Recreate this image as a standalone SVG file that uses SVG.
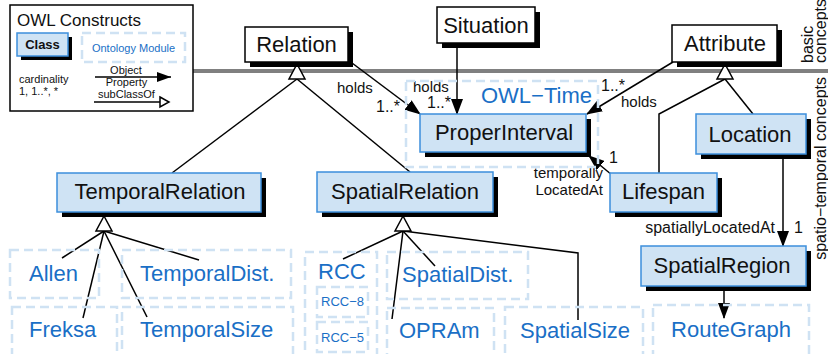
<svg xmlns="http://www.w3.org/2000/svg" width="828" height="354" viewBox="0 0 828 354">
<style>
text{font-family:"Liberation Sans",Arial,sans-serif}
.box{fill:#fff;stroke:#000;stroke-width:1.5}
.sh{fill:#000}
.cls{fill:#cfe3f4;stroke:#3d8fdc;stroke-width:1.5}
.mod{fill:none;stroke:#cfe2f3;stroke-width:2.5;stroke-dasharray:9 5}
.nt{font-size:22px;fill:#111;text-anchor:middle}
.mt{font-size:22px;fill:#1a6fc6}
.lb{font-size:15px;fill:#111}
.lb16{font-size:16px;fill:#111}
.ln{stroke:#000;stroke-width:1.5;fill:none}
.tri{fill:#fff;stroke:#000;stroke-width:1.5}
.lg{font-size:11px;fill:#111}
</style>
<defs>
<marker id="arr" markerUnits="userSpaceOnUse" markerWidth="16" markerHeight="12" refX="15" refY="6" orient="auto"><path d="M0,0 L16,6 L0,12 z" fill="#000"/></marker>
<marker id="arrs" markerUnits="userSpaceOnUse" markerWidth="14" markerHeight="10" refX="14" refY="5" orient="auto"><path d="M0,0 L14,5 L0,10 z" fill="#000"/></marker>
</defs>

<!-- separator -->
<line x1="193" y1="71" x2="828" y2="71" stroke="#808080" stroke-width="4"/>
<text class="lb16" transform="translate(813,63) rotate(-90)">basic</text>
<text class="lb16" transform="translate(826,63) rotate(-90)">concepts</text>
<text class="lb16" transform="translate(826,77) rotate(-90)" text-anchor="end">spatio−temporal concepts</text>

<!-- legend -->
<g id="legend">
<rect x="10" y="5" width="183" height="106" class="box"/>
<text x="17" y="26" style="font-size:17px;fill:#111">OWL Constructs</text>
<rect x="21" y="37" width="51" height="23" class="sh"/>
<rect x="17" y="33" width="51" height="23" class="cls"/>
<text x="42.5" y="49" style="font-size:13px;font-weight:bold;fill:#111" text-anchor="middle">Class</text>
<rect x="82" y="33" width="103" height="29" class="mod"/>
<text x="133.5" y="52" style="font-size:11px;fill:#1a6fc6" text-anchor="middle">Ontology Module</text>
<text x="19" y="83" class="lg">cardinality</text>
<text x="19" y="95" class="lg">1, 1..*, *</text>
<text x="126" y="74" class="lg" text-anchor="middle">Object</text>
<text x="126.5" y="86" class="lg" text-anchor="middle">Property</text>
<line x1="95" y1="77" x2="171" y2="77" class="ln" marker-end="url(#arrs)"/>
<text x="98" y="98" class="lg">subClassOf</text>
<line x1="94" y1="102" x2="160" y2="102" class="ln"/>
<path d="M160,97 L169,102 L160,107 z" class="tri"/>
</g>

<!-- connectors -->
<g id="connectors">
<line x1="297" y1="79" x2="172" y2="173" class="ln"/>
<line x1="297" y1="79" x2="410" y2="172" class="ln"/>
<path d="M297,64 L289,79 L305,79 z" class="tri"/>
<line x1="352" y1="63" x2="420" y2="114" class="ln" marker-end="url(#arr)"/>
<line x1="457" y1="43" x2="457" y2="114" class="ln" marker-end="url(#arr)"/>
<line x1="673" y1="62" x2="587" y2="114" class="ln" marker-end="url(#arr)"/>
<polyline points="725,79 659,114 659,173" class="ln"/>
<line x1="725" y1="79" x2="753" y2="114" class="ln"/>
<path d="M725,64 L717,79 L733,79 z" class="tri"/>
<line x1="612" y1="175" x2="589" y2="156" class="ln" marker-end="url(#arr)"/>
<line x1="783" y1="154" x2="783" y2="246" class="ln" marker-end="url(#arr)"/>
<line x1="724" y1="286" x2="724" y2="318" class="ln" marker-end="url(#arr)"/>
<line x1="104" y1="231" x2="62" y2="258" class="ln"/>
<line x1="104" y1="231" x2="83" y2="318" class="ln"/>
<line x1="104" y1="231" x2="147" y2="317" class="ln"/>
<line x1="104" y1="231" x2="199" y2="260" class="ln"/>
<path d="M104,216 L96,231 L112,231 z" class="tri"/>
<line x1="403" y1="231" x2="343" y2="259" class="ln"/>
<line x1="403" y1="231" x2="435" y2="266" class="ln"/>
<line x1="403" y1="231" x2="392" y2="319" class="ln"/>
<polyline points="403,231 578,253 578,320" class="ln"/>
<path d="M403,216 L395,231 L411,231 z" class="tri"/>
<text x="337" y="93" class="lb">holds</text>
<text x="376" y="112" class="lb16">1..*</text>
<text x="413" y="92" class="lb">holds</text>
<text x="427" y="108" class="lb16">1..*</text>
<text x="601" y="91" class="lb16">1..*</text>
<text x="621" y="107" class="lb">holds</text>
<text x="609" y="163" class="lb16">1</text>
<text x="603" y="178" class="lb" text-anchor="end">temporally</text>
<text x="603" y="195" class="lb" text-anchor="end">LocatedAt</text>
<text x="775" y="233" class="lb16" text-anchor="end">spatiallyLocatedAt</text>
<text x="794" y="233" class="lb16">1</text>
</g>

<!-- nodes -->
<g id="relation">
<rect x="250" y="32" width="103" height="35" class="sh"/>
<rect x="245" y="27" width="103" height="35" class="box"/>
<text x="296.5" y="52" class="nt">Relation</text>
</g>
<g id="situation">
<rect x="442" y="12" width="98" height="36" class="sh"/>
<rect x="437" y="7" width="98" height="36" class="box"/>
<text x="486" y="33" class="nt">Situation</text>
</g>
<g id="attribute">
<rect x="677" y="30" width="105" height="37" class="sh"/>
<rect x="672" y="25" width="105" height="37" class="box"/>
<text x="725" y="51" class="nt">Attribute</text>
</g>
<g id="owl-time">
<rect x="406" y="81" width="192" height="86" class="mod"/>
<text x="592" y="103" class="mt" text-anchor="end">OWL−Time</text>
</g>
<g id="properinterval">
<rect x="425" y="119" width="166" height="38" class="sh"/>
<rect x="420" y="114" width="166" height="38" class="cls"/>
<text x="504" y="140" class="nt">ProperInterval</text>
</g>
<g id="temporalrelation">
<rect x="62" y="178" width="204" height="39" class="sh"/>
<rect x="57" y="173" width="204" height="39" class="cls"/>
<text x="160" y="199" class="nt">TemporalRelation</text>
</g>
<g id="spatialrelation">
<rect x="322" y="177" width="176" height="40" class="sh"/>
<rect x="317" y="172" width="176" height="40" class="cls"/>
<text x="405" y="199" class="nt">SpatialRelation</text>
</g>
<g id="lifespan">
<rect x="615" y="178" width="107" height="39" class="sh"/>
<rect x="610" y="173" width="107" height="39" class="cls"/>
<text x="663.5" y="199" class="nt">Lifespan</text>
</g>
<g id="location">
<rect x="701" y="119" width="110" height="40" class="sh"/>
<rect x="696" y="114" width="110" height="40" class="cls"/>
<text x="750" y="142" class="nt">Location</text>
</g>
<g id="spatialregion">
<rect x="646" y="251" width="165" height="40" class="sh"/>
<rect x="641" y="246" width="165" height="40" class="cls"/>
<text x="722" y="273" class="nt">SpatialRegion</text>
</g>
<g id="allen">
<rect x="10" y="250" width="89" height="48" class="mod"/>
<text x="29" y="281" class="mt">Allen</text>
</g>
<g id="temporaldist">
<rect x="122" y="250" width="169" height="48" class="mod"/>
<text x="140" y="281" class="mt">TemporalDist.</text>
</g>
<g id="freksa">
<rect x="12" y="307" width="105" height="60" class="mod"/>
<text x="29" y="337" class="mt">Freksa</text>
</g>
<g id="temporalsize">
<rect x="122" y="307" width="171" height="60" class="mod"/>
<text x="140" y="337" class="mt">TemporalSize</text>
</g>
<g id="rcc">
<rect x="305" y="252" width="72" height="110" class="mod"/>
<text x="318" y="279" class="mt">RCC</text>
</g>
<g id="rcc8">
<rect x="317" y="287" width="51" height="30" class="mod"/>
<text x="342.5" y="306" style="font-size:13px;fill:#1a6fc6" text-anchor="middle">RCC−8</text>
</g>
<g id="rcc5">
<rect x="317" y="322" width="51" height="30" class="mod"/>
<text x="342.5" y="342" style="font-size:13px;fill:#1a6fc6" text-anchor="middle">RCC−5</text>
</g>
<g id="spatialdist">
<rect x="387" y="252" width="141" height="47" class="mod"/>
<text x="402" y="282" class="mt">SpatialDist.</text>
</g>
<g id="opram">
<rect x="387" y="308" width="107" height="60" class="mod"/>
<text x="399" y="338" class="mt">OPRAm</text>
</g>
<g id="spatialsize">
<rect x="505" y="307" width="138" height="60" class="mod"/>
<text x="520" y="338" class="mt">SpatialSize</text>
</g>
<g id="routegraph">
<rect x="653" y="305" width="156" height="60" class="mod"/>
<text x="731" y="337" class="mt" text-anchor="middle">RouteGraph</text>
</g>
</svg>
